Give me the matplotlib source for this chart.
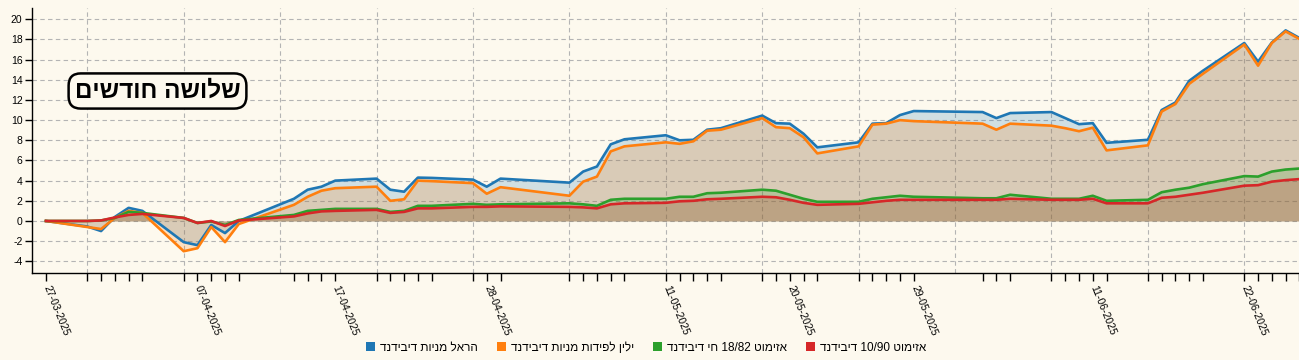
import matplotlib
matplotlib.use("Agg")
import matplotlib.pyplot as plt
import matplotlib.dates as mdates
from matplotlib.patches import Patch
import pandas as pd

# ---------------- data ----------------
dates = [
    "27-03-2025", "30-03-2025", "31-03-2025",
    "01-04-2025", "02-04-2025", "03-04-2025", "06-04-2025", "07-04-2025", "08-04-2025",
    "09-04-2025", "10-04-2025", "14-04-2025", "15-04-2025", "16-04-2025", "17-04-2025",
    "20-04-2025", "21-04-2025", "22-04-2025", "23-04-2025", "24-04-2025", "27-04-2025",
    "28-04-2025", "29-04-2025",
    "04-05-2025", "05-05-2025", "06-05-2025", "07-05-2025", "08-05-2025", "11-05-2025",
    "12-05-2025", "13-05-2025", "14-05-2025", "15-05-2025", "18-05-2025", "19-05-2025",
    "20-05-2025", "21-05-2025", "22-05-2025", "25-05-2025", "26-05-2025", "27-05-2025",
    "28-05-2025", "29-05-2025",
    "03-06-2025", "04-06-2025", "05-06-2025", "08-06-2025", "09-06-2025", "10-06-2025",
    "11-06-2025", "12-06-2025", "15-06-2025", "16-06-2025", "17-06-2025", "18-06-2025",
    "19-06-2025", "22-06-2025", "23-06-2025", "24-06-2025", "25-06-2025", "26-06-2025",
]

harel = [
    0.0, -0.55, -1.0,
    0.4, 1.3, 1.0, -2.1, -2.4, -0.4,
    -1.2, 0.0, 2.2, 3.1, 3.4, 4.0,
    4.2, 3.1, 2.9, 4.3, 4.27, 4.1,
    3.4, 4.2,
    3.8, 4.9, 5.4, 7.6, 8.1, 8.5,
    8.0, 8.05, 9.05, 9.2, 10.45, 9.7,
    9.65, 8.65, 7.3, 7.8, 9.65, 9.7,
    10.5, 10.9,
    10.8, 10.2, 10.7, 10.8, 10.2, 9.6,
    9.7, 7.75, 8.05, 11.0, 11.75, 13.9,
    14.9, 17.65, 15.8, 17.7, 18.9, 18.15,
]

yelin = [
    0.0, -0.6, -0.8,
    0.3, 1.0, 0.8, -3.0, -2.7, -0.6,
    -2.1, -0.3, 1.6, 2.4, 3.0, 3.25,
    3.4, 2.0, 2.15, 4.0, 3.95, 3.75,
    2.7, 3.35,
    2.5, 3.9, 4.4, 6.9, 7.4, 7.8,
    7.65, 7.9, 8.95, 9.05, 10.2, 9.3,
    9.2, 8.3, 6.7, 7.4, 9.55, 9.65,
    10.0, 9.9,
    9.65, 9.05, 9.65, 9.45, 9.2, 8.9,
    9.25, 7.0, 7.5, 10.85, 11.6, 13.6,
    14.6, 17.5, 15.4, 17.65, 18.8, 18.05,
]

azimut_18_82 = [
    0.0, 0.0, 0.05,
    0.3, 0.9, 0.8, 0.3, -0.2, -0.05,
    -0.4, 0.1, 0.6, 1.0, 1.1, 1.2,
    1.2, 0.9, 1.0, 1.5, 1.5, 1.7,
    1.6, 1.65,
    1.75, 1.65, 1.5, 2.1, 2.2, 2.2,
    2.4, 2.4, 2.75, 2.8, 3.1, 3.0,
    2.6, 2.2, 1.9, 1.9, 2.2, 2.35,
    2.5, 2.4,
    2.25, 2.25, 2.6, 2.2, 2.2, 2.2,
    2.5, 2.0, 2.1, 2.85, 3.1, 3.3,
    3.65, 4.45, 4.4, 4.9, 5.1, 5.2,
]

azimut_10_90 = [
    0.0, 0.0, 0.05,
    0.35, 0.6, 0.7, 0.3, -0.2, 0.0,
    -0.5, 0.05, 0.45, 0.75, 0.95, 1.0,
    1.1, 0.8, 0.9, 1.25, 1.25, 1.4,
    1.4, 1.45,
    1.4, 1.35, 1.25, 1.65, 1.75, 1.8,
    1.95, 2.0, 2.15, 2.2, 2.4, 2.35,
    2.1, 1.8, 1.6, 1.7, 1.85, 2.0,
    2.1, 2.1,
    2.1, 2.1, 2.2, 2.1, 2.1, 2.1,
    2.2, 1.75, 1.75, 2.3, 2.4, 2.6,
    2.8, 3.5, 3.55, 3.9, 4.05, 4.15,
]

series_names = [
    "הראל מניות דיבידנד",
    "ילין לפידות מניות דיבידנד",
    "אזימוט 18/82 חי דיבידנד",
    "אזימוט 10/90 דיבידנד",
]
series_values = [harel, yelin, azimut_18_82, azimut_10_90]
colors = ["#1f77b4", "#ff7f0e", "#2ca02c", "#d62728"]

title_text = "שלושה חודשים"
y_ticks = [-4, -2, 0, 2, 4, 6, 8, 10, 12, 14, 16, 18, 20]


def visual(s):
    """Convert logical RTL Hebrew text to visual LTR order, keeping numbers LTR."""
    words = s.split(" ")
    out = []
    for w in reversed(words):
        if any("\u0590" <= ch <= "\u05FF" for ch in w):
            out.append(w[::-1])
        else:
            out.append(w)
    return " ".join(out)


# ---------------- figure ----------------
BG = "#fdf9ee"
GRID = "#b4b4b4"
FONT = ["Liberation Sans", "DejaVu Sans"]
plt.rcParams["font.family"] = FONT

fig = plt.figure(figsize=(12.99, 3.60), dpi=100, facecolor=BG)
ax_left = 32.2 / 1299
ax_width = (1299.4 - 32.2) / 1299
ax_bottom = (360 - 273) / 360
ax_height = (273 - 8) / 360
ax = fig.add_axes([ax_left, ax_bottom, ax_width, ax_height])
ax.set_facecolor(BG)

x = pd.to_datetime(dates, format="%d-%m-%Y")
xn = mdates.date2num(x)

# areas
for vals, c in zip(series_values, colors):
    ax.fill_between(xn, 0, vals, color=c, alpha=0.2, linewidth=0, zorder=2)
# lines
for vals, c in zip(series_values, colors):
    ax.plot(xn, vals, color=c, lw=1.9, zorder=3, solid_joinstyle="round")

# limits
x0 = mdates.date2num(pd.Timestamp("2025-03-26"))
x1 = mdates.date2num(pd.Timestamp("2025-06-26"))
ax.set_xlim(x0, x1)
ax.set_ylim(-5.16, 21.12)

# grid
for yv in y_ticks:
    ax.axhline(yv, color=GRID, lw=0.8, ls=(0, (4, 3)), zorder=1)
sundays = pd.date_range("2025-03-30", "2025-06-26", freq="7D")
for d in sundays:
    ax.axvline(mdates.date2num(d), color=GRID, lw=0.8, ls=(0, (4, 3)), zorder=1)

# spines
for s in ["top", "right"]:
    ax.spines[s].set_visible(False)
ax.spines["left"].set_linewidth(1.0)
ax.spines["bottom"].set_linewidth(1.0)

# y ticks
ax.set_yticks(y_ticks)
ax.set_yticklabels([str(v) for v in y_ticks], fontsize=7.5, family=FONT)
ax.tick_params(axis="y", length=5, width=1, pad=2, colors="black")

# x ticks
ax.set_xticks(xn)
labels = [d if i % 7 == 0 else "" for i, d in enumerate(dates)]
ax.set_xticklabels(labels)
ax.tick_params(axis="x", length=6, width=1, pad=3)
for lab in ax.get_xticklabels():
    lab.set_rotation(-68)
    lab.set_rotation_mode("anchor")
    lab.set_ha("left")
    lab.set_va("center")
    lab.set_fontsize(7.5)

# title box
fig.text(157.5 / 1299, 1 - 91 / 360, visual(title_text), fontsize=17.5, fontweight="bold",
         ha="center", va="center", family=FONT, zorder=10,
         bbox=dict(boxstyle="round,pad=0.25,rounding_size=0.5", fc=BG, ec="black", lw=1.8))

# legend
handles = [Patch(facecolor=c, edgecolor="none") for c in colors]
fig.legend(handles, [visual(n) for n in series_names], loc="center",
           bbox_to_anchor=(646 / 1299, 1 - 348 / 360), ncol=4, frameon=False,
           fontsize=8.5, handlelength=0.8, handleheight=0.8, handletextpad=0.4,
           columnspacing=1.6, borderaxespad=0, borderpad=0)

fig.savefig("out.png", dpi=100, facecolor=BG)
